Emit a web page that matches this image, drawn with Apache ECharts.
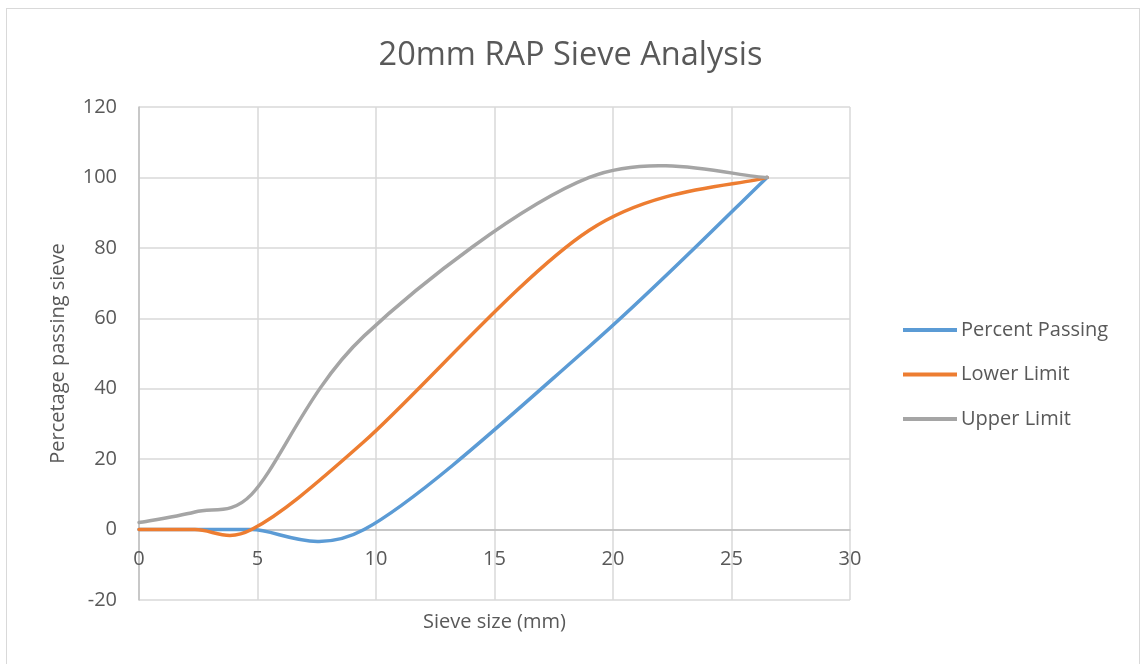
<!DOCTYPE html>
<html>
<head>
<meta charset="utf-8">
<script src="https://cdn.jsdelivr.net/npm/echarts@6/dist/echarts.min.js"></script>
<style>
  html, body { margin: 0; padding: 0; background: #fff; }
  #frame { position: absolute; left: 6px; top: 8px; width: 1134px; height: 660px; border: 1px solid #d9d9d9; box-sizing: border-box; }
  #main { position: absolute; left: 0; top: 0; width: 1141px; height: 664px; }
</style>
</head>
<body>
<div id="frame"></div>
<div id="main"></div>
<script>
// sieve sizes (mm) and percent passing
var sieveSizes = [0, 2.36, 4.75, 9.5, 19, 26.5];
var percentPassing = [0, 0, 0, 0, 52, 100];
var lowerLimit = [0, 0, 0, 25, 85, 100];
var upperLimit = [2, 5, 10, 55, 100, 100];

var seriesNames = ['Percent Passing', 'Lower Limit', 'Upper Limit'];
var seriesValues = [percentPassing, lowerLimit, upperLimit];
var seriesColors = ['#5b9bd5', '#ed7d31', '#a5a5a5'];

function pairs(ys) {
    return sieveSizes.map(function (x, i) { return [x, ys[i]]; });
}

function dist(a, b) {
    return Math.sqrt((a[0] - b[0]) * (a[0] - b[0]) + (a[1] - b[1]) * (a[1] - b[1]));
}

// Excel style smoothed line through pixel points
function smoothPath(p) {
    var d = 'M' + p[0][0] + ' ' + p[0][1];
    for (var i = 0; i < p.length - 1; i++) {
        var p0 = p[i - 1] || p[i], p1 = p[i], p2 = p[i + 1], p3 = p[i + 2] || p[i + 1];
        var d12 = dist(p1, p2), d02 = dist(p0, p2), d13 = dist(p1, p3);
        var f1 = d02 > 0 ? Math.min(1 / 6, d12 / (2 * d02)) : 0;
        var f2 = d13 > 0 ? Math.min(1 / 6, d12 / (2 * d13)) : 0;
        var c1 = [p1[0] + (p2[0] - p0[0]) * f1, p1[1] + (p2[1] - p0[1]) * f1];
        var c2 = [p2[0] - (p3[0] - p1[0]) * f2, p2[1] - (p3[1] - p1[1]) * f2];
        d += ' C' + c1[0] + ' ' + c1[1] + ' ' + c2[0] + ' ' + c2[1] + ' ' + p2[0] + ' ' + p2[1];
    }
    return d;
}

var font = 'Open Sans';
var textColor = '#595959';
var myChart = echarts.init(document.getElementById('main'));
var option = {
    animation: false,
    title: {
        text: '20mm RAP Sieve Analysis',
        left: 'center',
        top: 34,
        textStyle: { fontFamily: font, fontSize: 32.5, fontWeight: 'normal', color: textColor }
    },
    legend: {
        orient: 'vertical',
        left: 903,
        top: 320,
        padding: 0,
        itemWidth: 54,
        itemHeight: 4,
        itemGap: 24.5,
        icon: 'rect',
        textStyle: { fontFamily: font, fontSize: 20, color: textColor, padding: [0, 0, 0, -1] },
        data: seriesNames
    },
    grid: { left: 139, right: 291, top: 107, bottom: 64, containLabel: false, outerBoundsMode: 'none' },
    xAxis: {
        type: 'value',
        min: 0,
        max: 30,
        interval: 5,
        offset: -70.43,
        name: 'Sieve size (mm)',
        nameLocation: 'middle',
        nameGap: 83,
        nameTextStyle: { fontFamily: font, fontSize: 20, color: textColor },
        axisLine: { onZero: false, lineStyle: { color: '#bfbfbf', width: 1.5 } },
        axisTick: { show: false },
        axisLabel: { fontFamily: font, fontSize: 20, color: textColor, margin: 20 },
        splitLine: { show: true, lineStyle: { color: '#d9d9d9', width: 1.5 } }
    },
    yAxis: {
        type: 'value',
        min: -20,
        max: 120,
        interval: 20,
        name: 'Percetage passing sieve',
        nameLocation: 'middle',
        nameGap: 71,
        nameTextStyle: { fontFamily: font, fontSize: 20, color: textColor },
        axisLine: { show: true, onZero: false, lineStyle: { color: '#bfbfbf', width: 1.5 } },
        axisTick: { show: false },
        axisLabel: { fontFamily: font, fontSize: 20, color: textColor, margin: 22 },
        splitLine: { show: true, lineStyle: { color: '#d9d9d9', width: 1.5 } }
    },
    series: seriesNames.map(function (name, k) {
        var ys = seriesValues[k];
        return {
            name: name,
            type: 'custom',
            data: pairs(ys),
            encode: { x: 0, y: 1 },
            itemStyle: { color: seriesColors[k] },
            renderItem: function (params, api) {
                if (params.dataIndex !== 0) return null;
                var pts = sieveSizes.map(function (x, i) { return api.coord([x, ys[i]]); });
                return {
                    type: 'path',
                    shape: { pathData: smoothPath(pts) },
                    style: { fill: 'none', stroke: seriesColors[k], lineWidth: 3.5, lineCap: 'round', lineJoin: 'round' }
                };
            }
        };
    })
};
myChart.setOption(option);
</script>
</body>
</html>
